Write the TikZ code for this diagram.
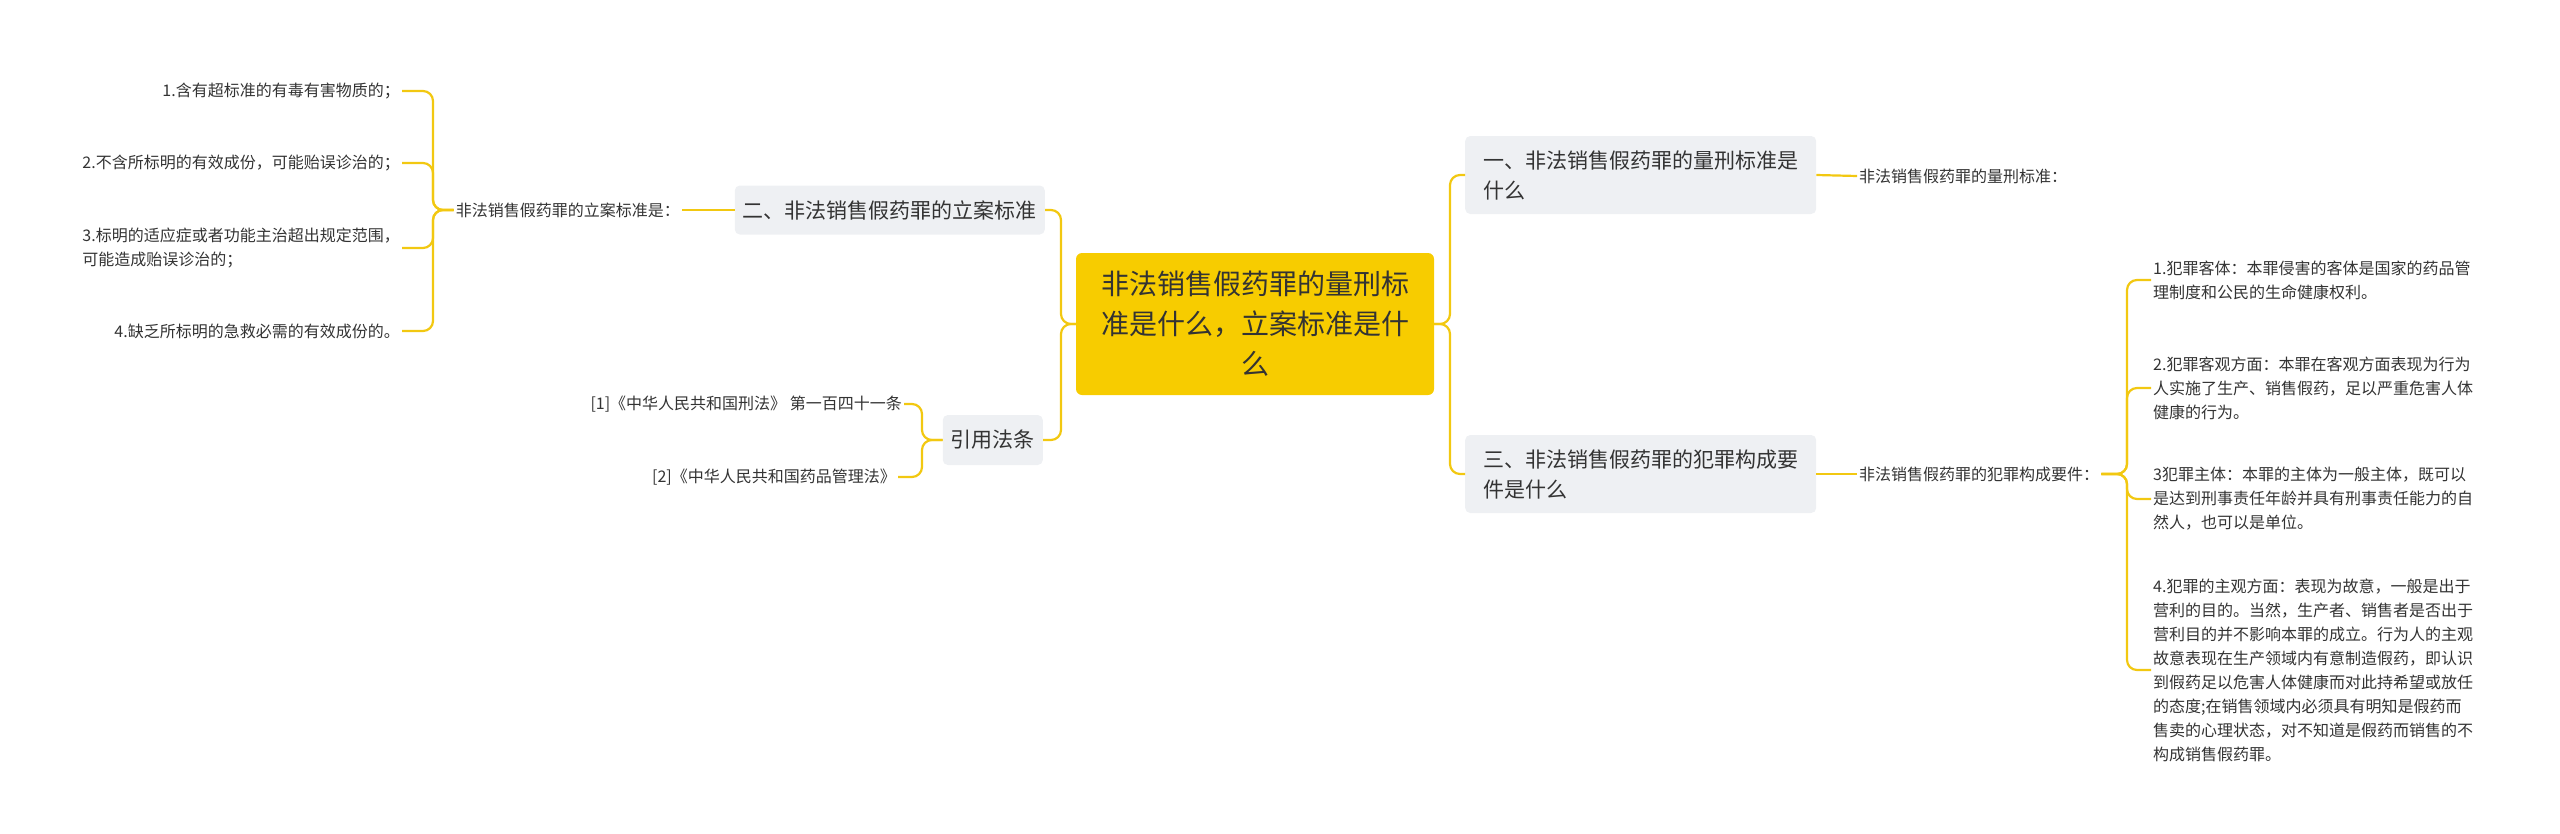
\documentclass[tikz,border=0pt]{standalone}
\usepackage{fontspec}
\setmainfont{Noto Sans CJK SC}
\begin{document}
\begin{tikzpicture}[x=1pt,y=-1pt,
  conn/.style={draw=lineY,line width=2.2pt,rounded corners=10pt},
  sub/.style={fill=boxG,rounded corners=5pt,font=\fontsize{21}{30}\selectfont,text=txt,inner sep=8pt,align=left},
  leaf/.style={font=\fontsize{16}{24}\selectfont,text=txt,inner sep=2pt,align=left}]
\definecolor{lineY}{HTML}{F2C811}
\definecolor{boxG}{HTML}{EEF0F3}
\definecolor{rootY}{HTML}{F7CC00}
\definecolor{txt}{HTML}{333333}
\useasboundingbox (0,0) rectangle (2560,833);
\node[fill=rootY,rounded corners=6pt,minimum width=358pt,minimum height=142pt,font=\fontsize{28}{40}\selectfont,text=txt,align=center] (root) at (1255,324) {非法销售假药罪的量刑标\\准是什么，立案标准是什\\么};
\node[sub,minimum width=351pt,minimum height=78pt,anchor=west] (r1) at (1465,175) {一、非法销售假药罪的量刑标准是\\什么};
\node[sub,minimum width=351pt,minimum height=78pt,anchor=west] (r3) at (1465,474) {三、非法销售假药罪的犯罪构成要\\件是什么};
\node[sub,minimum height=49pt,anchor=east] (l2) at (1045,210) {二、非法销售假药罪的立案标准};
\node[sub,minimum height=50pt,anchor=east] (l3) at (1043,440) {引用法条};
\node[leaf,anchor=west] (r1a) at (1857,176) {非法销售假药罪的量刑标准：};
\node[leaf,anchor=west] (r3a) at (1857,474) {非法销售假药罪的犯罪构成要件：};
\node[leaf,anchor=west] (c1) at (2151,280) {1.犯罪客体：本罪侵害的客体是国家的药品管\\理制度和公民的生命健康权利。};
\node[leaf,anchor=west] (c2) at (2151,388) {2.犯罪客观方面：本罪在客观方面表现为行为\\人实施了生产、销售假药，足以严重危害人体\\健康的行为。};
\node[leaf,anchor=west] (c3) at (2151,499) {3犯罪主体：本罪的主体为一般主体，既可以\\是达到刑事责任年龄并具有刑事责任能力的自\\然人，也可以是单位。};
\node[leaf,anchor=west] (c4) at (2151,670) {4.犯罪的主观方面：表现为故意，一般是出于\\营利的目的。当然，生产者、销售者是否出于\\营利目的并不影响本罪的成立。行为人的主观\\故意表现在生产领域内有意制造假药，即认识\\到假药足以危害人体健康而对此持希望或放任\\的态度;在销售领域内必须具有明知是假药而\\售卖的心理状态，对不知道是假药而销售的不\\构成销售假药罪。};
\node[leaf,anchor=east] (l2a) at (682,210) {非法销售假药罪的立案标准是：};
\node[leaf,anchor=east] (b1) at (402,91) {1.含有超标准的有毒有害物质的；};
\node[leaf,anchor=east] (b2) at (402,163) {2.不含所标明的有效成份，可能贻误诊治的；};
\node[leaf,anchor=east] (b3) at (402,248) {3.标明的适应症或者功能主治超出规定范围，\\可能造成贻误诊治的；};
\node[leaf,anchor=east] (b4) at (402,331) {4.缺乏所标明的急救必需的有效成份的。};
\node[leaf,anchor=east] (d1) at (904,404) {[1]《中华人民共和国刑法》 第一百四十一条};
\node[leaf,anchor=east] (d2) at (898,477) {[2]《中华人民共和国药品管理法》};
% root connectors
\draw[conn] (root.east) -- (1450,324) |- (r1.west);
\draw[conn] (root.east) -- (1450,324) |- (r3.west);
\draw[conn] (root.west) -- (1061,324) |- (l2.east);
\draw[conn] (root.west) -- (1061,324) |- (l3.east);
\draw[conn] (r1.east) -- (r1a.west);
\draw[conn] (r3.east) -- (r3a.west);
\draw[conn] (l2.west) -- (l2a.east);
\foreach \c in {c1,c2,c3,c4} \draw[conn] (r3a.east) -- (2127,474) |- (\c.west);
\foreach \c in {b1,b2,b3,b4} \draw[conn] (l2a.west) -- (433,210) |- (\c.east);
\foreach \c in {d1,d2} \draw[conn] (l3.west) -- (922,440) |- (\c.east);
\end{tikzpicture}
\end{document}
